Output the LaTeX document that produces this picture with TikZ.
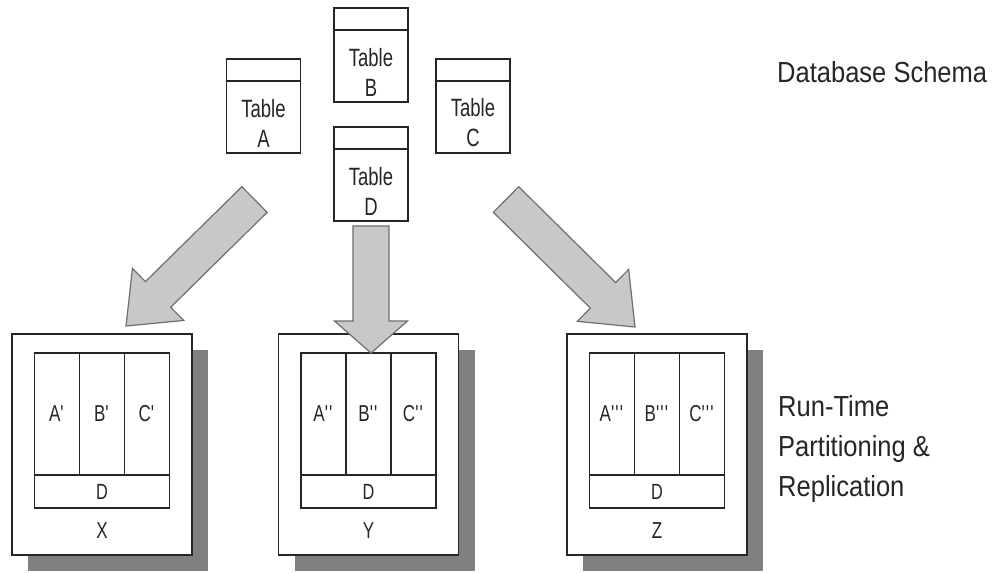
\documentclass[tikz,border=0pt]{standalone}
\usepackage{fontspec}
\setmainfont{Liberation Sans}
\newfontfamily\narrowfont[FakeStretch=0.74]{Liberation Sans}
\newfontfamily\notefont[FakeStretch=0.88]{Liberation Sans}
\usetikzlibrary{positioning,calc,shadows}
\definecolor{inkgray}{HTML}{262626}
\definecolor{arrowfill}{HTML}{C8C8C8}
\definecolor{arrowline}{HTML}{6E6E6E}
\definecolor{shadowgray}{HTML}{808080}
\newcommand{\sq}{\textquotesingle}
% big block arrow: tail, tip, head length
\newcommand{\bigarrow}[3]{%
  \coordinate (#2base) at ($(#2)!#3!(#1)$);
  \draw[blockarrow] ($(#1)!18pt!90:(#2)$) -- ($(#2base)!18pt!-90:(#1)$)
    -- ($(#2base)!36.5pt!-90:(#1)$) -- (#2) -- ($(#2base)!36.5pt!90:(#1)$)
    -- ($(#2base)!18pt!90:(#1)$) -- ($(#1)!18pt!-90:(#2)$) -- cycle;}

\begin{document}
\begin{tikzpicture}[x=1pt, y=-1pt,
    tablebox/.style={draw=black!85, line width=1.5pt, fill=white, inner sep=0pt, outer sep=0pt,
      minimum width=74pt, minimum height=72pt},
    tablehead/.style={tablebox, minimum height=22pt},
    tabletext/.style={align=center, text=inkgray, inner sep=0pt,
      font=\narrowfont\fontsize{25}{30}\selectfont},
    server/.style={draw=black!85, line width=1.5pt, fill=white, minimum width=180pt, minimum height=221pt,
      drop shadow={shadow xshift=16pt, shadow yshift=-16pt, fill=shadowgray, opacity=1}},
    cell/.style={draw=black!85, line width=1.3pt, inner sep=0pt, outer sep=0pt,
      minimum width=45pt, minimum height=122pt, text=inkgray,
      font=\narrowfont\fontsize{23}{27}\selectfont},
    drow/.style={cell, minimum width=135pt, minimum height=33pt, font=\narrowfont\fontsize{22}{26}\selectfont},
    srvlabel/.style={text=inkgray, inner sep=0pt, font=\narrowfont\fontsize{23}{27}\selectfont},
    note/.style={text=inkgray, inner sep=0pt, align=left, font=\notefont\fontsize{29}{40}\selectfont},
    blockarrow/.style={fill=arrowfill, draw=arrowline, line width=1.2pt, line join=miter}]
  \useasboundingbox (0,0) rectangle (995,573);

  % schema tables
  \foreach \t/\px/\py in {A/263.5/117, B/371/66, C/473/117, D/371/185} {
    \node[tablebox] (table\t) at (\px,\py) {};
    \node[tablehead, above=0pt of table\t] (head\t) {};
    \node[tabletext] (text\t) at ([yshift=-6pt]table\t.center) {Table\\\t};
  }

  % servers with partitions
  \foreach \s/\cx/\p in {X/102/{\sq}, Y/368.5/{\sq\sq}, Z/657/{\sq\sq\sq}} {
    \node[server] (srv\s) at (\cx,444.5) {};
    \node[cell] (b\s) at (\cx,414) {B\p};
    \node[cell, left=0pt of b\s] (a\s) {A\p};
    \node[cell, right=0pt of b\s] (c\s) {C\p};
    \node[drow, below=0pt of b\s] (d\s) {D};
    \node[srvlabel] (lbl\s) at (\cx,531) {\s};
  }

  % arrows
  \coordinate (fromA) at (254.5,199.5);
  \coordinate (toX) at (126,326);
  \coordinate (fromD) at ([yshift=-5pt]tableD.south);
  \coordinate (toY) at (tableD.south |- bY.north);
  \coordinate (fromC) at (506,199.5);
  \coordinate (toZ) at (635,327);
  \bigarrow{fromA}{toX}{45pt}
  \bigarrow{fromD}{toY}{32pt}
  \bigarrow{fromC}{toZ}{45pt}

  \node[note, anchor=base west] (schema) at (777,82) {Database Schema};
  \node[note, anchor=west] (runtime) at (778,449) {Run-Time\\Partitioning \&\\Replication};
\end{tikzpicture}
\end{document}
